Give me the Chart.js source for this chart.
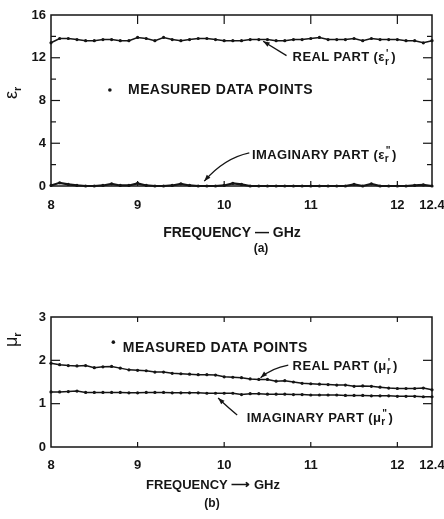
<!DOCTYPE html>
<html>
<head>
<meta charset="utf-8">
<script src="https://cdn.jsdelivr.net/npm/chart.js@4.4.1/dist/chart.umd.min.js"></script>
<style>
  body { margin: 0; background: #fff; }
  .box { position: absolute; left: 0; width: 444px; }
</style>
</head>
<body>
<div class="box" style="top:0;height:262px"><canvas id="chartA" width="444" height="262"></canvas></div>
<div class="box" style="top:300px;height:219px"><canvas id="chartB" width="444" height="219"></canvas></div>
<script>
// frequency points, GHz
const freqs = [8.0, 8.1, 8.2, 8.3, 8.4, 8.5, 8.6, 8.7, 8.8, 8.9,
  9.0, 9.1, 9.2, 9.3, 9.4, 9.5, 9.6, 9.7, 9.8, 9.9,
  10.0, 10.1, 10.2, 10.3, 10.4, 10.5, 10.6, 10.7, 10.8, 10.9,
  11.0, 11.1, 11.2, 11.3, 11.4, 11.5, 11.6, 11.7, 11.8, 11.9,
  12.0, 12.1, 12.2, 12.3, 12.4];

// (a) permittivity
const epsReal = [13.4, 13.8, 13.8, 13.7, 13.6, 13.6, 13.7, 13.7, 13.6, 13.6,
  13.9, 13.8, 13.6, 13.9, 13.7, 13.6, 13.7, 13.8, 13.8, 13.7,
  13.6, 13.6, 13.6, 13.7, 13.7, 13.7, 13.6, 13.6, 13.7, 13.7,
  13.8, 13.9, 13.7, 13.7, 13.7, 13.8, 13.6, 13.8, 13.7, 13.7,
  13.7, 13.6, 13.6, 13.4, 13.6];
const epsImag = [0.05, 0.3, 0.15, 0.05, 0.0, 0.0, 0.05, 0.2, 0.05, 0.05,
  0.25, 0.05, 0.0, 0.0, 0.05, 0.2, 0.05, 0.0, 0.0, 0.0,
  0.05, 0.25, 0.15, 0.0, 0.0, 0.0, 0.0, 0.0, 0.0, 0.0,
  0.0, 0.0, 0.0, 0.0, 0.0, 0.15, 0.0, 0.2, 0.0, 0.0,
  0.0, 0.0, 0.05, 0.1, 0.0];

// (b) permeability
const muReal = [1.93, 1.90, 1.88, 1.87, 1.88, 1.83, 1.85, 1.86, 1.82, 1.78,
  1.77, 1.76, 1.73, 1.73, 1.70, 1.69, 1.68, 1.67, 1.67, 1.66,
  1.62, 1.61, 1.60, 1.57, 1.56, 1.56, 1.52, 1.53, 1.50, 1.47,
  1.46, 1.45, 1.44, 1.43, 1.43, 1.40, 1.41, 1.40, 1.38, 1.36,
  1.35, 1.35, 1.35, 1.36, 1.32];
const muImag = [1.27, 1.27, 1.28, 1.29, 1.26, 1.26, 1.26, 1.26, 1.26, 1.25,
  1.25, 1.26, 1.26, 1.26, 1.25, 1.25, 1.25, 1.25, 1.24, 1.24,
  1.24, 1.24, 1.21, 1.23, 1.23, 1.22, 1.22, 1.22, 1.21, 1.21,
  1.20, 1.20, 1.20, 1.20, 1.19, 1.19, 1.19, 1.18, 1.18, 1.18,
  1.17, 1.17, 1.17, 1.16, 1.16];

const xTicks = [8, 9, 10, 11, 12, 12.4];
const epsTicks = [0, 4, 8, 12, 16];
const epsMinor = [2, 6, 10, 14];
const muTicks = [0, 1, 2, 3];

const INK = "#151515";
const FONT = "'Liberation Sans', Arial, sans-serif";

function pts(ys) {
  return freqs.map((f, i) => ({ x: f, y: ys[i] }));
}

function series(ys, w) {
  return {
    data: pts(ys),
    borderColor: INK,
    backgroundColor: INK,
    borderWidth: w,
    pointRadius: 1.6,
    pointHoverRadius: 1.6,
    pointBorderWidth: 0,
    tension: 0,
    clip: 4,
  };
}

// rich text: segments drawn left to right, sup/sub stacked on the same spot
function richText(ctx, x, y, segs, size) {
  let cx = x;
  segs.forEach(s => {
    if (s.stack) {
      ctx.font = "bold " + Math.round(size * 0.8) + "px " + FONT;
      const w = Math.max(ctx.measureText(s.sup).width, ctx.measureText(s.sub).width);
      ctx.fillText(s.sup, cx + 1, y - size * 0.3);
      ctx.fillText(s.sub, cx, y + size * 0.35);
      cx += w + 2;
    } else {
      ctx.font = "bold " + size + "px " + FONT;
      ctx.fillText(s.t, cx, y);
      cx += ctx.measureText(s.t).width;
    }
  });
}

function arrow(ctx, x0, y0, cx, cy, x1, y1) {
  ctx.beginPath();
  ctx.moveTo(x0, y0);
  ctx.quadraticCurveTo(cx, cy, x1, y1);
  ctx.stroke();
  const a = Math.atan2(y1 - cy, x1 - cx);
  ctx.beginPath();
  ctx.moveTo(x1, y1);
  ctx.lineTo(x1 - 7 * Math.cos(a - 0.35), y1 - 7 * Math.sin(a - 0.35));
  ctx.lineTo(x1 - 7 * Math.cos(a + 0.35), y1 - 7 * Math.sin(a + 0.35));
  ctx.closePath();
  ctx.fill();
}

// box frame + inward tick marks + labels and arrows
const framePlugin = {
  id: "frame",
  afterDatasetsDraw(chart, args, opts) {
    const { ctx, chartArea: a, scales: { x, y } } = chart;
    ctx.save();
    ctx.strokeStyle = INK;
    ctx.fillStyle = INK;
    ctx.lineWidth = 1.5;
    ctx.strokeRect(a.left, a.top, a.right - a.left, a.bottom - a.top);

    ctx.lineWidth = 1.2;
    const tick = (x0, y0, x1, y1) => {
      ctx.beginPath(); ctx.moveTo(x0, y0); ctx.lineTo(x1, y1); ctx.stroke();
    };
    opts.yMajor.forEach(v => {
      const py = y.getPixelForValue(v);
      tick(a.left, py, a.left + 9, py);
      tick(a.right, py, a.right - 9, py);
    });
    opts.yMinor.forEach(v => {
      const py = y.getPixelForValue(v);
      tick(a.left, py, a.left + 5, py);
      tick(a.right, py, a.right - 5, py);
    });
    [9, 10, 11, 12].forEach(v => {
      const px = x.getPixelForValue(v);
      tick(px, a.top, px, a.top + opts.xTickLen);
      tick(px, a.bottom, px, a.bottom - 5);
    });

    // annotations (positions in data units)
    ctx.textBaseline = "middle";
    ctx.textAlign = "left";
    ctx.lineWidth = 1.3;
    ctx.letterSpacing = "0.4px";
    opts.notes.forEach(n => {
      const px = x.getPixelForValue(n.x), py = y.getPixelForValue(n.y);
      richText(ctx, px, py, n.segs, n.size || 13);
    });
    ctx.letterSpacing = "0px";
    opts.arrows.forEach(r => {
      arrow(ctx,
        x.getPixelForValue(r[0]), y.getPixelForValue(r[1]),
        x.getPixelForValue(r[2]), y.getPixelForValue(r[3]),
        x.getPixelForValue(r[4]), y.getPixelForValue(r[5]));
    });
    // legend dot
    const d = opts.dot;
    ctx.beginPath();
    ctx.arc(x.getPixelForValue(d[0]), y.getPixelForValue(d[1]), 1.8, 0, Math.PI * 2);
    ctx.fill();

    // axis titles and panel label
    ctx.textAlign = "center";
    ctx.font = "bold " + opts.titleSize + "px " + FONT;
    ctx.fillText(opts.xTitle, opts.xTitleX, opts.xTitleY);
    ctx.font = "bold 12px " + FONT;
    ctx.fillText(opts.panel, opts.panelX, opts.panelY);

    ctx.translate(13, opts.yTitleY);
    ctx.rotate(-Math.PI / 2);
    ctx.textAlign = "left";
    ctx.font = "18px " + FONT;
    ctx.fillText(opts.yTitle, -7, -1);
    const w = ctx.measureText(opts.yTitle).width;
    ctx.font = "bold 11px " + FONT;
    ctx.fillText("r", -7 + w, 5);
    ctx.restore();
  }
};

function makeChart(id, sets, yMax, yTicks, cfg) {
  return new Chart(document.getElementById(id), {
    type: "line",
    data: { datasets: sets },
    plugins: [framePlugin],
    options: {
      responsive: false,
      animation: false,
      events: [],
      layout: { padding: { left: 0, right: 12, top: cfg.top, bottom: cfg.bottom } },
      plugins: { legend: { display: false }, tooltip: { enabled: false }, frame: cfg.frame },
      scales: {
        x: {
          type: "linear",
          min: 8,
          max: 12.4,
          afterBuildTicks: s => { s.ticks = xTicks.map(v => ({ value: v })); },
          afterFit: s => { s.height = cfg.xHeight; s.paddingRight = 0; s.paddingLeft = 0; },
          grid: { display: false, drawTicks: false },
          border: { display: false },
          ticks: {
            color: INK,
            padding: cfg.xPad,
            maxRotation: 0,
            autoSkip: false,
            font: { family: FONT, size: 13, weight: "bold" },
            callback: v => String(v),
          },
        },
        y: {
          min: 0,
          max: yMax,
          afterBuildTicks: s => { s.ticks = yTicks.map(v => ({ value: v })); },
          afterFit: s => { s.width = 51; s.paddingTop = 0; s.paddingBottom = 0; },
          grid: { display: false, drawTicks: false },
          border: { display: false },
          ticks: {
            color: INK,
            padding: 5,
            font: { family: FONT, size: 13, weight: "bold" },
          },
        },
      },
    },
  });
}

makeChart("chartA", [series(epsReal, 1.5), series(epsImag, 2.2)], 16, epsTicks, {
  top: 15, bottom: 21, xHeight: 55, xPad: 12,
  frame: {
    yMajor: [4, 8, 12], yMinor: epsMinor, xTickLen: 9,
    xTitle: "FREQUENCY \u2014 GHz", xTitleX: 232, xTitleY: 233, titleSize: 14,
    panel: "(a)", panelX: 261, panelY: 249,
    yTitle: "\u03b5", yTitleY: 92,
    dot: [8.68, 8.98],
    notes: [
      { x: 10.79, y: 12.0, segs: [{ t: "REAL PART (\u03b5" }, { stack: true, sup: "'", sub: "r" }, { t: ")" }] },
      { x: 8.89, y: 8.98, size: 14, segs: [{ t: "MEASURED DATA POINTS" }] },
      { x: 10.32, y: 2.9, segs: [{ t: "IMAGINARY PART (\u03b5" }, { stack: true, sup: "\"", sub: "r" }, { t: ")" }] },
    ],
    arrows: [
      [10.72, 12.2, 10.6, 12.8, 10.45, 13.55],
      [10.29, 3.1, 10.0, 2.6, 9.77, 0.45],
    ],
  },
});

makeChart("chartB", [series(muReal, 1.5), series(muImag, 1.5)], 3, muTicks, {
  top: 17, bottom: 26, xHeight: 46, xPad: 11,
  frame: {
    yMajor: [1, 2], yMinor: [], xTickLen: 5,
    xTitle: "FREQUENCY \u27f6 GHz", xTitleX: 213, xTitleY: 185, titleSize: 13,
    panel: "(b)", panelX: 212, panelY: 204,
    yTitle: "\u03bc", yTitleY: 40,
    dot: [8.72, 2.42],
    notes: [
      { x: 8.83, y: 2.28, size: 14, segs: [{ t: "MEASURED DATA POINTS" }] },
      { x: 10.79, y: 1.85, segs: [{ t: "REAL PART (\u03bc" }, { stack: true, sup: "'", sub: "r" }, { t: ")" }] },
      { x: 10.26, y: 0.67, segs: [{ t: "IMAGINARY PART (\u03bc" }, { stack: true, sup: "\"", sub: "r" }, { t: ")" }] },
    ],
    arrows: [
      [10.74, 1.89, 10.55, 1.82, 10.42, 1.6],
      [10.15, 0.74, 10.05, 0.9, 9.93, 1.13],
    ],
  },
});
</script>
</body>
</html>
